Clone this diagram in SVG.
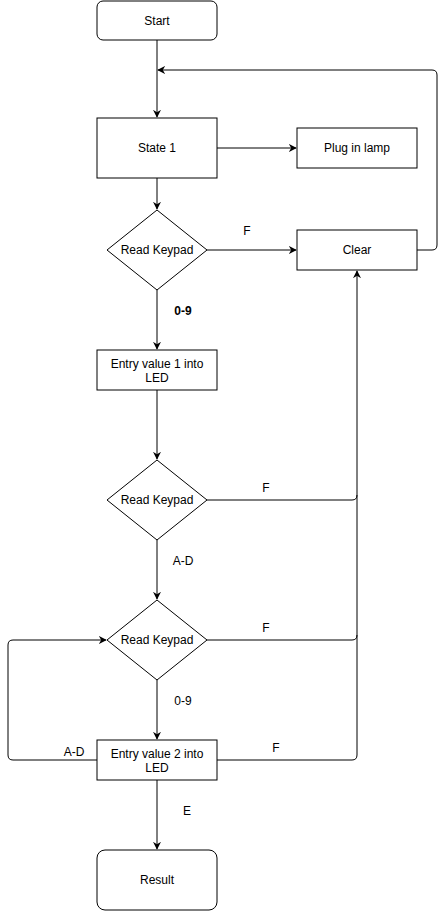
<svg xmlns="http://www.w3.org/2000/svg" width="446" height="911" viewBox="0 0 446 911">
<defs>
<marker id="arr" viewBox="0 0 10 10" refX="9" refY="5" markerWidth="8" markerHeight="8" markerUnits="userSpaceOnUse" orient="auto">
<path d="M0,0 L10,5 L0,10 L3,5 Z" fill="#000"/>
</marker>
<style>
.n{fill:#fff;stroke:#000;stroke-width:1}
.t{font-family:"Liberation Sans",Arial,sans-serif;font-size:12px;fill:#000;text-anchor:middle}
.l{font-family:"Liberation Sans",Arial,sans-serif;font-size:12px;fill:#000;text-anchor:middle}
.e{fill:none;stroke:#000;stroke-width:1}
</style>
</defs>
<rect width="446" height="911" fill="#fff"/>
<g id="edges">
<path class="e" d="M157,40 V117" marker-end="url(#arr)"/>
<path class="e" d="M217,148 H296" marker-end="url(#arr)"/>
<path class="e" d="M157,178 V209" marker-end="url(#arr)"/>
<path class="e" d="M207,250 H296" marker-end="url(#arr)"/>
<path class="e" d="M417,250 H432 Q437,250 437,245 V75 Q437,70 432,70 H158" marker-end="url(#arr)"/>
<path class="e" d="M157,290 V349" marker-end="url(#arr)"/>
<path class="e" d="M157,390 V459" marker-end="url(#arr)"/>
<path class="e" d="M207,500 H352 Q357,500 357,495"/>
<path class="e" d="M157,540 V599" marker-end="url(#arr)"/>
<path class="e" d="M207,640 H352 Q357,640 357,635"/>
<path class="e" d="M157,680 V739" marker-end="url(#arr)"/>
<path class="e" d="M217,760 H352 Q357,760 357,755 V271" marker-end="url(#arr)"/>
<path class="e" d="M97,760 H13 Q8,760 8,755 V645 Q8,640 13,640 H106" marker-end="url(#arr)"/>
<path class="e" d="M157,780 V849" marker-end="url(#arr)"/>
<text class="l" x="247" y="235">F</text>
<text class="l" x="183" y="315" font-weight="bold">0-9</text>
<text class="l" x="266" y="492">F</text>
<text class="l" x="183" y="565">A-D</text>
<text class="l" x="266" y="632">F</text>
<text class="l" x="183" y="705">0-9</text>
<text class="l" x="74" y="756">A-D</text>
<text class="l" x="276" y="752">F</text>
<text class="l" x="187" y="815">E</text>
</g>
<g id="start"><rect class="n" x="97" y="1" width="120" height="39" rx="6"/><text class="t" x="157" y="25">Start</text></g>
<g id="state1"><rect class="n" x="97" y="118" width="120" height="60"/><text class="t" x="157" y="152">State 1</text></g>
<g id="plug"><rect class="n" x="297" y="128" width="120" height="40"/><text class="t" x="357" y="152">Plug in lamp</text></g>
<g id="read1"><polygon class="n" points="157,210 207,250 157,290 107,250"/><text class="t" x="157" y="254">Read Keypad</text></g>
<g id="clear"><rect class="n" x="297" y="230" width="120" height="40"/><text class="t" x="357" y="254">Clear</text></g>
<g id="entry1"><rect class="n" x="97" y="350" width="120" height="40"/><text class="t" x="157" y="368">Entry value 1 into</text><text class="t" x="157" y="382">LED</text></g>
<g id="read2"><polygon class="n" points="157,460 207,500 157,540 107,500"/><text class="t" x="157" y="504">Read Keypad</text></g>
<g id="read3"><polygon class="n" points="157,600 207,640 157,680 107,640"/><text class="t" x="157" y="644">Read Keypad</text></g>
<g id="entry2"><rect class="n" x="97" y="740" width="120" height="40"/><text class="t" x="157" y="758">Entry value 2 into</text><text class="t" x="157" y="772">LED</text></g>
<g id="result"><rect class="n" x="97" y="850" width="120" height="60" rx="8"/><text class="t" x="157" y="884">Result</text></g>
</svg>
